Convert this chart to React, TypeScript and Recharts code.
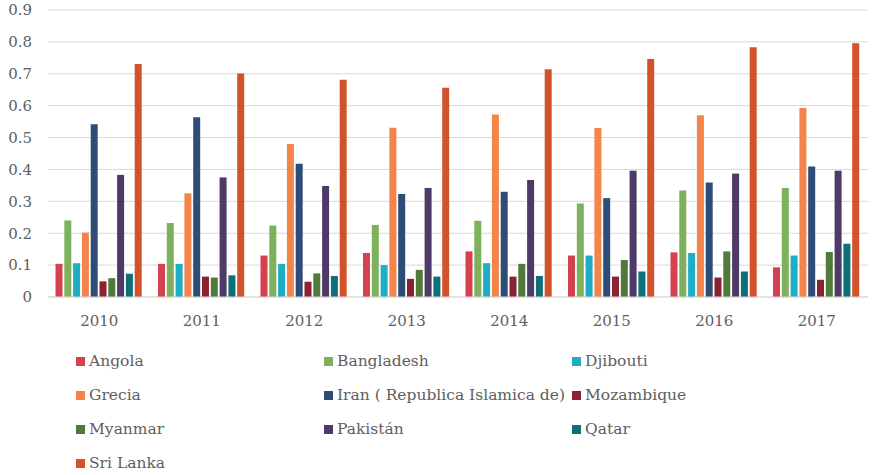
import React from "react";
import { BarChart, Bar, XAxis, YAxis, CartesianGrid, Legend } from "recharts";

const years = ["2010", "2011", "2012", "2013", "2014", "2015", "2016", "2017"];

const angola = [0.104, 0.104, 0.13, 0.138, 0.143, 0.13, 0.14, 0.093];
const bangladesh = [0.24, 0.232, 0.224, 0.226, 0.239, 0.293, 0.334, 0.342];
const djibouti = [0.106, 0.104, 0.104, 0.1, 0.106, 0.13, 0.138, 0.13];
const grecia = [0.202, 0.325, 0.48, 0.531, 0.572, 0.53, 0.57, 0.593];
const iran = [0.542, 0.564, 0.418, 0.323, 0.33, 0.31, 0.359, 0.409];
const mozambique = [0.049, 0.064, 0.048, 0.057, 0.064, 0.064, 0.061, 0.054];
const myanmar = [0.059, 0.061, 0.074, 0.085, 0.104, 0.116, 0.143, 0.141];
const pakistan = [0.383, 0.375, 0.348, 0.342, 0.367, 0.396, 0.387, 0.396];
const qatar = [0.073, 0.068, 0.066, 0.064, 0.066, 0.08, 0.08, 0.167];
const sriLanka = [0.731, 0.701, 0.681, 0.656, 0.714, 0.746, 0.783, 0.796];

const yTicks = [0, 0.1, 0.2, 0.3, 0.4, 0.5, 0.6, 0.7, 0.8, 0.9];
const yTickLabels = ["0", "0.1", "0.2", "0.3", "0.4", "0.5", "0.6", "0.7", "0.8", "0.9"];

const series = [
  { key: "Angola", values: angola, color: "#D4414F" },
  { key: "Bangladesh", values: bangladesh, color: "#7DB15B" },
  { key: "Djibouti", values: djibouti, color: "#1FADC5" },
  { key: "Grecia", values: grecia, color: "#F3844A" },
  { key: "Iran ( Republica Islamica de)", values: iran, color: "#2D4C76" },
  { key: "Mozambique", values: mozambique, color: "#8B2231" },
  { key: "Myanmar", values: myanmar, color: "#4F7A3A" },
  { key: "Pakistán", values: pakistan, color: "#4E3A66" },
  { key: "Qatar", values: qatar, color: "#0E6F78" },
  { key: "Sri Lanka", values: sriLanka, color: "#D2532B" },
];

const data = years.map((y, i) => {
  const row: Record<string, any> = { year: y };
  series.forEach((s) => {
    row[s.key] = s.values[i];
  });
  return row;
});

const FONT = "'DejaVu Serif', serif";
const TEXT = "#606060";

const LegendContent = () => (
  <div
    style={{
      display: "grid",
      gridTemplateColumns: "248px 248px 248px",
      gridAutoRows: "34px",
      fontFamily: FONT,
      fontSize: 15.5,
      color: TEXT,
    }}
  >
    {series.map((s) => (
      <div key={s.key} style={{ display: "flex", alignItems: "center", whiteSpace: "nowrap" }}>
        <span
          style={{
            display: "inline-block",
            width: 9,
            height: 9,
            background: s.color,
            marginRight: 4,
          }}
        />
        <span>{s.key}</span>
      </div>
    ))}
  </div>
);

export default function App() {
  return (
    <div style={{ position: "absolute", left: 0, top: 0, width: 873, height: 475, background: "#fff" }}>
      <BarChart
        width={873}
        height={475}
        data={data}
        margin={{ top: 10, right: 5, left: 0, bottom: 138 }}
        barCategoryGap={7.5}
        barGap={1.8}
      >
        <CartesianGrid vertical={false} stroke="#D9D9D9" strokeWidth={1} />
        <XAxis
          dataKey="year"
          axisLine={{ stroke: "#D9D9D9" }}
          tickLine={false}
          tickSize={0}
          tickMargin={18}
          height={40}
          tick={{ fontFamily: FONT, fontSize: 15, fill: TEXT }}
        />
        <YAxis
          domain={[0, 0.9]}
          ticks={yTicks}
          tickFormatter={(v: number) => yTickLabels[yTicks.indexOf(v)] ?? String(v)}
          axisLine={false}
          tickLine={false}
          tickSize={0}
          tickMargin={16}
          width={48}
          interval={0}
          tick={{ fontFamily: FONT, fontSize: 15, fill: TEXT }}
        />
        <Legend
          layout="horizontal"
          verticalAlign="middle"
          align="center"
          wrapperStyle={{ top: 344, left: 76, width: 760 }}
          content={<LegendContent />}
        />
        {series.map((s) => (
          <Bar key={s.key} dataKey={s.key} fill={s.color} isAnimationActive={false} />
        ))}
      </BarChart>
    </div>
  );
}
